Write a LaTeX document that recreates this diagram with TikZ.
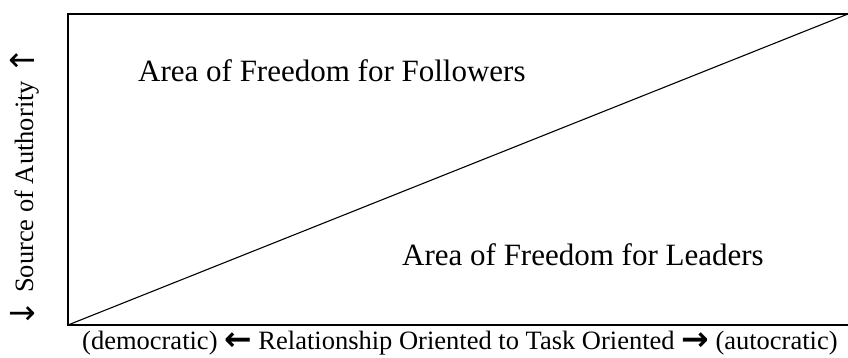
\documentclass[tikz,border=0pt]{standalone}
\usepackage{fontspec}
\setmainfont{Liberation Serif}
\newfontfamily\arrowfont{DejaVu Sans}
\newcommand{\bigarrow}[1]{{\arrowfont\fontsize{33}{36}\selectfont\raisebox{-1pt}{#1}}}
\begin{document}
\begin{tikzpicture}[x=1pt,y=-1pt,
  frame/.style={line width=2pt},
  diag/.style={line width=1.1pt},
  big/.style={font=\fontsize{31}{36}\selectfont, inner sep=0pt},
  small/.style={font=\fontsize{26.5}{30}\selectfont, inner sep=0pt}]
\useasboundingbox (0,0) rectangle (848,358);
\coordinate (tr) at (848,14);
\coordinate (tl) at (68,14);
\coordinate (bl) at (68,325);
\coordinate (br) at (848,325);
\draw[frame] (tr) -- (tl) -- (bl) -- (br);
\draw[diag] (bl) -- (tr);
\node[big, anchor=base west] (fol) at (138,82) {Area of Freedom for Followers};
\node[big, anchor=base west] (lead) at (402,265) {Area of Freedom for Leaders};
\node[small, anchor=base west] (xlab) at (82,349) {(democratic) \bigarrow{\bfseries ←} Relationship Oriented to Task Oriented \bigarrow{\bfseries →} (autocratic)};
\node[small, anchor=base, rotate=90] (ylab) at (33,187) {\bigarrow{↓} Source of Authority \bigarrow{↑}};
\end{tikzpicture}
\end{document}
